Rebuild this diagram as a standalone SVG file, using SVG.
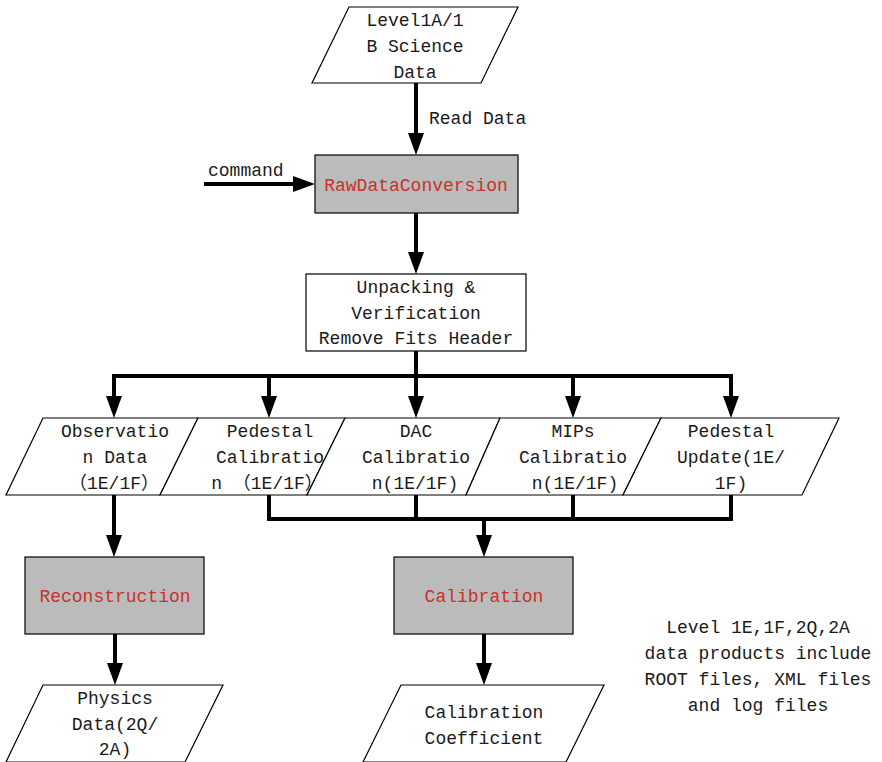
<svg xmlns="http://www.w3.org/2000/svg" width="882" height="762" viewBox="0 0 882 762">
  <style>
    text { font-family: "Liberation Mono", "Noto Sans CJK SC", monospace; font-size: 18px; fill: #1a1a1a; text-anchor: middle; }
    text.red { fill: #c8322a; }
    text.left { text-anchor: start; }
    .data { fill: #ffffff; stroke: #000000; stroke-width: 1.2; }
    .proc { fill: #bbbbbb; stroke: #000000; stroke-width: 1.2; }
    .step { fill: #ffffff; stroke: #000000; stroke-width: 1.2; }
    .flow { fill: none; stroke: #000000; stroke-width: 4; stroke-linejoin: miter; }
  </style>
  <defs>
    <marker id="head" viewBox="0 0 22 16" markerWidth="22" markerHeight="16" refX="0" refY="8" orient="auto" markerUnits="userSpaceOnUse">
      <path d="M0,0 L22,8 L0,16 z" fill="#000000"/>
    </marker>
  </defs>

  <rect width="882" height="762" fill="#ffffff"/>

  <!-- connectors -->
  <g id="connectors">
    <path class="flow" d="M416,83 V133" marker-end="url(#head)"/>
    <path class="flow" d="M204,184 H293" marker-end="url(#head)"/>
    <path class="flow" d="M416,213 V252" marker-end="url(#head)"/>
    <path class="flow" d="M416,351 V376"/>
    <path class="flow" d="M114,396 V376 H731 V396" marker-end="url(#head)"/>
    <path class="flow" d="M114,376 V396" marker-end="url(#head)"/>
    <path class="flow" d="M269,376 V396" marker-end="url(#head)"/>
    <path class="flow" d="M416,376 V396" marker-end="url(#head)"/>
    <path class="flow" d="M573,376 V396" marker-end="url(#head)"/>
    <path class="flow" d="M114,495 V535" marker-end="url(#head)"/>
    <path class="flow" d="M269,495 V519 H731 V495"/>
    <path class="flow" d="M416,495 V519"/>
    <path class="flow" d="M573,495 V519"/>
    <path class="flow" d="M484,519 V535" marker-end="url(#head)"/>
    <path class="flow" d="M115,634 V663" marker-end="url(#head)"/>
    <path class="flow" d="M484,634 V663" marker-end="url(#head)"/>
    <text class="left" x="429" y="124">Read Data</text>
    <text class="left" x="208" y="176">command</text>
  </g>

  <g id="science-data">
    <polygon class="data" points="349,7 518,7 481,83 312,83"/>
    <text x="415" y="26">Level1A/1</text>
    <text x="415" y="52">B Science</text>
    <text x="415" y="78">Data</text>
  </g>

  <g id="raw-data-conversion">
    <rect class="proc" x="315" y="155" width="203" height="58"/>
    <text class="red" x="416" y="191">RawDataConversion</text>
  </g>

  <g id="unpacking">
    <rect class="step" x="306" y="274" width="220" height="77"/>
    <text x="416" y="293">Unpacking &amp;</text>
    <text x="416" y="319">Verification</text>
    <text x="416" y="344">Remove Fits Header</text>
  </g>

  <g id="observation-data">
    <polygon class="data" points="43,418 198,418 160,495 6,495"/>
    <text x="115" y="437">Observatio</text>
    <text x="115" y="463">n Data</text>
    <text x="114" y="489">（1E/1F）</text>
  </g>

  <g id="pedestal-calibration">
    <polygon class="data" points="198,418 345,418 307,495 160,495"/>
    <text x="270" y="437">Pedestal</text>
    <text x="270" y="463">Calibratio</text>
    <text x="267" y="489">n （1E/1F）</text>
  </g>

  <g id="dac-calibration">
    <polygon class="data" points="345,418 500,418 466,495 307,495"/>
    <text x="416" y="437">DAC</text>
    <text x="416" y="463">Calibratio</text>
    <text x="415" y="489">n(1E/1F)</text>
  </g>

  <g id="mips-calibration">
    <polygon class="data" points="500,418 661,418 623,495 466,495"/>
    <text x="573" y="437">MIPs</text>
    <text x="573" y="463">Calibratio</text>
    <text x="575" y="489">n(1E/1F)</text>
  </g>

  <g id="pedestal-update">
    <polygon class="data" points="661,418 839,418 802,495 623,495"/>
    <text x="731" y="437">Pedestal</text>
    <text x="731" y="463">Update(1E/</text>
    <text x="731" y="489">1F)</text>
  </g>

  <g id="reconstruction">
    <rect class="proc" x="25" y="557" width="179" height="77"/>
    <text class="red" x="115" y="602">Reconstruction</text>
  </g>

  <g id="calibration">
    <rect class="proc" x="394" y="557" width="179" height="77"/>
    <text class="red" x="484" y="602">Calibration</text>
  </g>

  <g id="physics-data">
    <polygon class="data" points="43,685 223,685 185,762 6,762"/>
    <text x="115" y="704">Physics</text>
    <text x="115" y="730">Data(2Q/</text>
    <text x="115" y="755">2A)</text>
  </g>

  <g id="calibration-coefficient">
    <polygon class="data" points="401,685 604,685 566,762 363,762"/>
    <text x="484" y="718">Calibration</text>
    <text x="484" y="744">Coefficient</text>
  </g>

  <g id="note">
    <text x="758" y="633">Level 1E,1F,2Q,2A</text>
    <text x="758" y="659">data products include</text>
    <text x="758" y="685">ROOT files, XML files</text>
    <text x="758" y="711">and log files</text>
  </g>
</svg>
